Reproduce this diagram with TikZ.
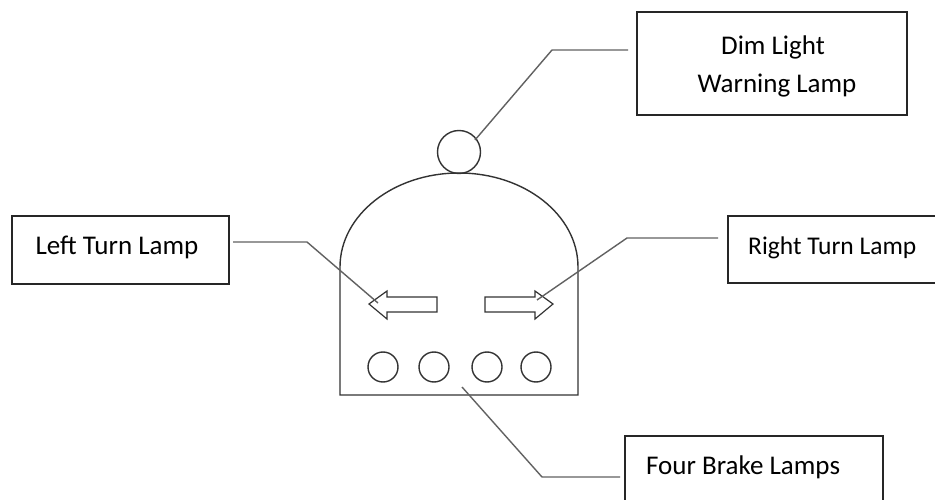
\documentclass[tikz,border=0pt]{standalone}
\usepackage{fontspec}
\setmainfont{Carlito}
\begin{document}
\begin{tikzpicture}[x=1pt,y=-1pt,
  labelbox/.style={draw=black!85,line width=1.4pt,rectangle,inner sep=0pt},
  labeltext/.style={font=\fontsize{27}{38}\selectfont,text=black,inner sep=0pt},
  shape line/.style={draw=black!80,line width=1.4pt},
  conn/.style={draw=black!62,line width=1.4pt}]
\useasboundingbox[fill=white] (0,0) rectangle (935,500);
% lamp body
\draw[shape line] (340,395) -- (340,267) arc[start angle=180,end angle=360,x radius=119,y radius=94] -- (578,395) -- cycle;
\node[shape line,circle,minimum size=43pt,inner sep=0pt] (dimlamp) at (459,152) {};
\foreach \i/\x in {1/383,2/434,3/487,4/536}
  \node[shape line,circle,minimum size=30pt,inner sep=0pt] (brake\i) at (\x,367) {};
% turn arrows
\draw[shape line,line width=1.2pt] (369,304) -- (387,291) -- (387,297) -- (437,297) -- (437,312) -- (387,312) -- (387,319) -- cycle;
\draw[shape line,line width=1.2pt] (553,304) -- (535,291) -- (535,297) -- (485,297) -- (485,312) -- (535,312) -- (535,319) -- cycle;
\coordinate (leftarrow) at (378,303);
\coordinate (rightarrow) at (537,300);
% label boxes
\node[labelbox,minimum width=270pt,minimum height=103pt] (dimbox) at (772,63.5) {};
\node[labeltext,align=center] (dimtext) at (773,66) {Dim Light\\ \hspace*{8pt}Warning Lamp};
\node[labelbox,minimum width=217pt,minimum height=68pt] (leftbox) at (120.5,250) {};
\node[labeltext] (lefttext) at (117,247) {Left Turn Lamp};
\node[labelbox,minimum width=217pt,minimum height=67pt] (rightbox) at (836.5,249.5) {};
\node[labeltext,font=\fontsize{25.5}{30}\selectfont,anchor=west] (righttext) at (748,248) {Right Turn Lamp};
\node[labelbox,minimum width=258pt,minimum height=80pt] (brakebox) at (754,476) {};
\node[labeltext,anchor=west] (braketext) at (646,467) {Four Brake Lamps};
% connectors
\coordinate (d1) at (628,50);
\coordinate (d2) at (552,50);
\coordinate (d3) at (475,140);
\draw[conn] (d1) -- (d2) -- (d3);
\coordinate (l1) at (233,242);
\coordinate (l2) at (307,242);
\draw[conn] (l1) -- (l2) -- (leftarrow);
\coordinate (r1) at (718,238);
\coordinate (r2) at (627,238);
\draw[conn] (r1) -- (r2) -- (rightarrow);
\coordinate (b1) at (620,477);
\coordinate (b2) at (542,477);
\coordinate (b3) at (462,387);
\draw[conn] (b1) -- (b2) -- (b3);
\end{tikzpicture}
\end{document}
